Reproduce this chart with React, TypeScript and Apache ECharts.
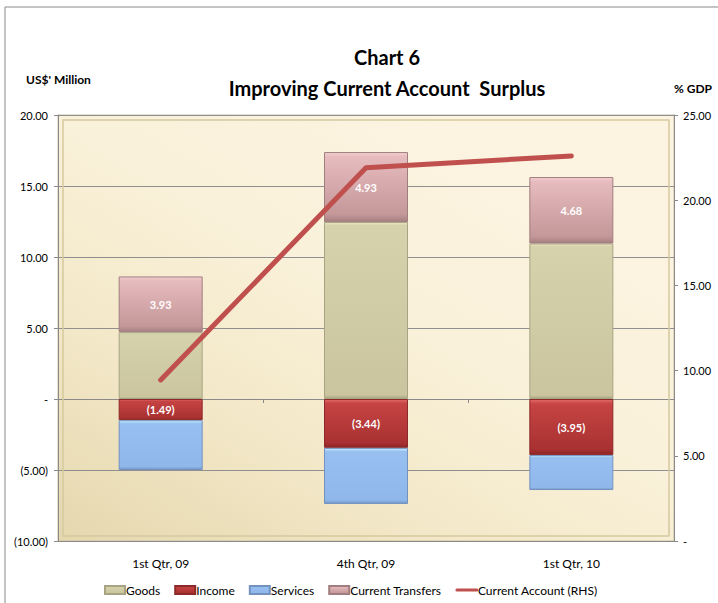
import React, { useEffect, useRef } from "react";
import * as echarts from "echarts";

const categories = ["1st Qtr, 09", "4th Qtr, 09", "1st Qtr, 10"];
const goods = [4.7, 12.46, 10.95];
const income = [-1.49, -3.44, -3.95];
const services = [-3.51, -3.95, -2.46];
const transfers = [3.93, 4.93, 4.68];
const currentAccount = [9.45, 21.9, 22.6];
const leftTicks = { min: -10, max: 20, interval: 5 };
const rightTicks = { min: 0, max: 25, interval: 5 };

const FONT = "Lato, 'Open Sans', sans-serif";

const vGrad = (stops: [number, string][]) =>
  new echarts.graphic.LinearGradient(
    0,
    0,
    0,
    1,
    stops.map(([offset, color]) => ({ offset, color }))
  );

export default function App() {
  const ref = useRef<HTMLDivElement>(null);
  useEffect(() => {
    const chart = echarts.init(ref.current!, undefined, { renderer: "svg" });
    const leftFmt = (v: number) =>
      v === 0 ? "-" : v < 0 ? `(${Math.abs(v).toFixed(2)})` : v.toFixed(2);
    const rightFmt = (v: number) => (v === 0 ? "-" : v.toFixed(2));
    const labelFmt = (p: any) =>
      p.value < 0 ? `(${Math.abs(p.value).toFixed(2)})` : p.value.toFixed(2);

    chart.setOption({
      animation: false,
      backgroundColor: "#ffffff",
      textStyle: { fontFamily: FONT },
      title: [
        {
          text: "Chart 6",
          left: 382,
          top: 42,
          textAlign: "center",
          textStyle: { fontFamily: FONT, fontSize: 20, fontWeight: "bold", color: "#000" },
        },
        {
          text: "Improving Current Account  Surplus",
          left: 382,
          top: 73,
          textAlign: "center",
          textStyle: { fontFamily: FONT, fontSize: 20, fontWeight: "bold", color: "#000" },
        },
      ],
      graphic: [
        {
          type: "rect",
          shape: { x: 5, y: 7, width: 900, height: 800 },
          style: { fill: "none", stroke: "#8a8a8a", lineWidth: 1 },
          silent: true,
        },
        {
          type: "text",
          left: 26,
          top: 73,
          style: { text: "US$' Million", fontFamily: FONT, fontSize: 12, fontWeight: "bold", fill: "#000" },
        },
        {
          type: "text",
          left: 674,
          top: 82,
          style: { text: "% GDP", fontFamily: FONT, fontSize: 12, fontWeight: "bold", fill: "#000" },
        },
        {
          type: "rect",
          shape: { x: 63, y: 120, width: 606, height: 416 },
          style: { fill: "none", stroke: "#D5C9A0", lineWidth: 1.5 },
          silent: true,
          z: 1,
        },
      ],
      grid: {
        left: 58,
        right: 44,
        top: 115,
        bottom: 62,
        show: true,
        borderColor: "#C9C1A2",
        borderWidth: 1,
        backgroundColor: new echarts.graphic.LinearGradient(0, 1, 0.75, 0.1, [
          { offset: 0, color: "#E5D8AF" },
          { offset: 0.35, color: "#F3E8C8" },
          { offset: 0.65, color: "#FAF1DA" },
          { offset: 1, color: "#FCF3E1" },
        ]),
      },
      legend: {
        left: 99,
        top: 579,
        itemWidth: 20,
        itemHeight: 8,
        itemGap: 14,
        textStyle: { fontFamily: FONT, fontSize: 12, color: "#000", padding: [0, 0, 0, -4] },
        data: [
          { name: "Goods", icon: "rect" },
          { name: "Income", icon: "rect" },
          { name: "Services", icon: "rect" },
          { name: "Current Transfers", icon: "rect" },
          {
            name: "Current Account (RHS)",
            itemStyle: { opacity: 0 },
            lineStyle: { width: 3, color: "#C0504D" },
          },
        ],
      },
      xAxis: [
        {
          type: "category",
          data: categories,
          axisLine: { onZero: false, show: true, lineStyle: { color: "#8a8a8a" } },
          axisTick: { show: false },
          axisLabel: { margin: 16, fontFamily: FONT, fontSize: 12, color: "#000" },
        },
        {
          type: "category",
          data: categories,
          position: "bottom",
          axisLine: { onZero: true, show: true, lineStyle: { color: "#8a8a8a" } },
          axisTick: { show: true, length: 4, lineStyle: { color: "#8a8a8a" } },
          axisLabel: { show: false },
        },
      ],
      yAxis: [
        {
          type: "value",
          ...leftTicks,
          axisLine: { show: true, lineStyle: { color: "#8a8a8a" } },
          axisTick: { show: true, length: 4, lineStyle: { color: "#8a8a8a" } },
          splitLine: { show: true, lineStyle: { color: "#8f8f8f", width: 1 } },
          axisLabel: { formatter: leftFmt, margin: 10, fontFamily: FONT, fontSize: 11, color: "#000" },
        },
        {
          type: "value",
          ...rightTicks,
          position: "right",
          axisLine: { show: true, lineStyle: { color: "#8a8a8a" } },
          axisTick: { show: true, length: 4, lineStyle: { color: "#8a8a8a" } },
          splitLine: { show: false },
          axisLabel: { formatter: rightFmt, margin: 9, fontFamily: FONT, fontSize: 11, color: "#000" },
        },
      ],
      series: [
        {
          name: "Goods",
          type: "bar",
          stack: "ca",
          barWidth: 84,
          data: goods,
          color: "#CFCAA3",
          itemStyle: {
            color: vGrad([
              [0, "#F2EEC9"],
              [0.015, "#D6D2AB"],
              [0.98, "#CAC59E"],
              [1, "#A9A582"],
            ]),
            borderColor: "#A8A483",
            borderWidth: 1,
          },
        },
        {
          name: "Income",
          type: "bar",
          stack: "ca",
          barWidth: 84,
          data: income,
          color: "#B83A39",
          itemStyle: {
            color: vGrad([
              [0, "#E26A68"],
              [0.08, "#C64443"],
              [0.9, "#A93131"],
              [1, "#8E2525"],
            ]),
            borderColor: "#8C2929",
            borderWidth: 1,
          },
          label: {
            show: true,
            position: "inside",
            formatter: labelFmt,
            color: "#fff",
            fontWeight: "bold",
            fontSize: 11,
            fontFamily: FONT,
          },
        },
        {
          name: "Services",
          type: "bar",
          stack: "ca",
          barWidth: 84,
          data: services,
          color: "#93BBEE",
          itemStyle: {
            color: vGrad([
              [0, "#C8EEFF"],
              [0.06, "#97BFF0"],
              [0.94, "#8FB7EA"],
              [1, "#7496C6"],
            ]),
            borderColor: "#7392C0",
            borderWidth: 1,
          },
        },
        {
          name: "Current Transfers",
          type: "bar",
          stack: "ca",
          barWidth: 84,
          data: transfers,
          color: "#D9AAAC",
          itemStyle: {
            color: vGrad([
              [0, "#F3CFD0"],
              [0.06, "#E7BCBE"],
              [0.9, "#C49799"],
              [1, "#A67F81"],
            ]),
            borderColor: "#A07E80",
            borderWidth: 1,
          },
          label: {
            show: true,
            position: "inside",
            formatter: labelFmt,
            color: "#fff",
            fontWeight: "bold",
            fontSize: 11,
            fontFamily: FONT,
          },
        },
        {
          name: "Current Account (RHS)",
          type: "line",
          yAxisIndex: 1,
          data: currentAccount,
          symbol: "none",
          color: "#C0504D",
          lineStyle: { color: "#C0504D", width: 5, cap: "round", join: "round" },
          z: 5,
        },
      ],
    });
    return () => chart.dispose();
  }, []);
  return (
    <div
      ref={ref}
      style={{ position: "fixed", left: 0, top: 0, width: 718, height: 603 }}
    />
  );
}
